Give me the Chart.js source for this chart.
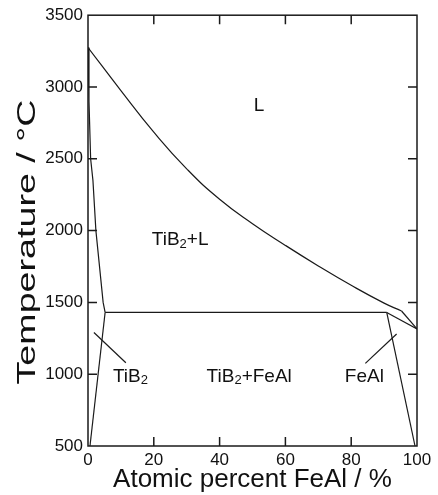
<!DOCTYPE html>
<html>
<head>
<meta charset="utf-8">
<script src="https://cdn.jsdelivr.net/npm/chart.js@4"></script>
<style>
  html, body { margin: 0; padding: 0; background: #fff; }
  #wrap { width: 438px; height: 495px; }
</style>
</head>
<body>
<div id="wrap"><canvas id="chartcontainer"></canvas></div>
<script>
// liquidus (TiB2 + L / L)
var liqX = [0, 10, 20, 30, 40, 50, 60, 70, 80, 90, 95.3];
var liqT = [3275, 2975, 2685, 2430, 2218, 2048, 1897, 1754, 1619, 1495, 1440];
// TiB2 side boundary
var tibX = [0, 0.3, 0.8, 1.5, 2.4, 4.6, 5.2];
var tibT = [3275, 2900, 2500, 2350, 2000, 1500, 1430];
// eutectic line
var eutX = [5.2, 90.8];
var eutT = [1430, 1430];
// FeAl side
var feLiqX = [95.3, 100];
var feLiqT = [1440, 1315];
var feSolX = [90.8, 100];
var feSolT = [1430, 1315];
var feSolvX = [90.8, 99.4];
var feSolvT = [1430, 500];
var tibSolvX = [5.2, 0.6];
var tibSolvT = [1430, 500];
// leader lines for labels
var tibLeadX = [1.8, 11.5];
var tibLeadT = [1290, 1080];
var feLeadX = [93.8, 84.3];
var feLeadT = [1280, 1075];
// region labels
var labelText = ["L", "TiB₂+L", "TiB₂", "TiB₂+FeAl", "FeAl"];
var labelX = [52, 28, 12.9, 49, 84];
var labelT = [2870, 1935, 985, 982, 985];
// ticks and titles
var xTicks = [0, 20, 40, 60, 80, 100];
var yTicks = [500, 1000, 1500, 2000, 2500, 3000, 3500];
var yTitle = 'Temperature / °C';

function pts(xs, ys) {
    var out = [];
    for (var i = 0; i < xs.length; i++) out.push({x: xs[i], y: ys[i]});
    return out;
}

function line(xs, ys, smooth) {
    return {
        data: pts(xs, ys),
        showLine: true,
        borderColor: '#1a1a1a',
        borderWidth: 1.2,
        pointRadius: 0,
        fill: false,
        tension: smooth ? 0.5 : 0
    };
}

// frame + inward ticks on all four sides
var framePlugin = {
    id: 'frame',
    afterDraw: function(chart) {
        var ctx = chart.ctx, a = chart.chartArea;
        var xs = chart.scales.x, ys = chart.scales.y;
        var len = 9;
        ctx.save();
        ctx.strokeStyle = '#1a1a1a';
        ctx.lineWidth = 1.5;
        ctx.strokeRect(a.left, a.top, a.right - a.left, a.bottom - a.top);
        ctx.beginPath();
        xTicks.forEach(function(v) {
            if (v <= 0 || v >= 100) return;
            var px = xs.getPixelForValue(v);
            ctx.moveTo(px, a.bottom); ctx.lineTo(px, a.bottom - len);
            ctx.moveTo(px, a.top); ctx.lineTo(px, a.top + len);
        });
        yTicks.forEach(function(v) {
            if (v <= 500 || v >= 3500) return;
            var py = ys.getPixelForValue(v);
            ctx.moveTo(a.left, py); ctx.lineTo(a.left + len, py);
            ctx.moveTo(a.right, py); ctx.lineTo(a.right - len, py);
        });
        ctx.stroke();

        // y title, stretched along its length like the original
        ctx.font = '25px "Liberation Sans", Arial, sans-serif';
        ctx.fillStyle = '#111';
        ctx.textAlign = 'center';
        ctx.textBaseline = 'middle';
        var w = ctx.measureText(yTitle).width;
        ctx.translate(28, 242);
        ctx.rotate(-Math.PI / 2);
        ctx.scale(285 / w, 1);
        ctx.fillText(yTitle, 0, 0);
        ctx.restore();
    }
};

// region labels with subscript 2
var labelPlugin = {
    id: 'labels',
    afterDatasetsDraw: function(chart) {
        var ctx = chart.ctx;
        var xs = chart.scales.x, ys = chart.scales.y;
        var big = '19px "Liberation Sans", Arial, sans-serif';
        var small = '13px "Liberation Sans", Arial, sans-serif';
        ctx.save();
        ctx.fillStyle = '#111';
        ctx.textBaseline = 'middle';
        ctx.textAlign = 'left';
        for (var i = 0; i < labelText.length; i++) {
            var parts = labelText[i].split('₂');
            var w = 0;
            ctx.font = big;
            parts.forEach(function(p) { w += ctx.measureText(p).width; });
            ctx.font = small;
            var sw = ctx.measureText('2').width;
            w += sw * (parts.length - 1);
            var cx = xs.getPixelForValue(labelX[i]) - w / 2;
            var cy = ys.getPixelForValue(labelT[i]);
            for (var j = 0; j < parts.length; j++) {
                ctx.font = big;
                ctx.fillText(parts[j], cx, cy);
                cx += ctx.measureText(parts[j]).width;
                if (j < parts.length - 1) {
                    ctx.font = small;
                    ctx.fillText('2', cx, cy + 4);
                    cx += sw;
                }
            }
        }
        ctx.restore();
    }
};

var ctx = document.getElementById('chartcontainer').getContext('2d');
var chart = new Chart(ctx, {
    type: 'scatter',
    data: {
        datasets: [
            line(liqX, liqT, true),
            line(tibX, tibT, false),
            line(eutX, eutT, false),
            line(feLiqX, feLiqT, false),
            line(feSolX, feSolT, false),
            line(feSolvX, feSolvT, false),
            line(tibSolvX, tibSolvT, false),
            line(tibLeadX, tibLeadT, false),
            line(feLeadX, feLeadT, false)
        ]
    },
    options: {
        responsive: true,
        maintainAspectRatio: false,
        animation: false,
        layout: { padding: { top: 15, right: 21, left: 0, bottom: 0 } },
        plugins: {
            legend: { display: false },
            tooltip: { enabled: false }
        },
        scales: {
            x: {
                type: 'linear',
                min: 0,
                max: 100,
                afterFit: function(s) { s.height = 49; },
                afterBuildTicks: function(s) { s.ticks = xTicks.map(function(v) { return {value: v}; }); },
                grid: { display: false, drawTicks: false },
                border: { display: false },
                ticks: {
                    color: '#111',
                    padding: 4,
                    maxRotation: 0,
                    callback: function(v) { return String(v); },
                    font: { family: '"Liberation Sans", Arial, sans-serif', size: 17 }
                },
                title: {
                    display: true,
                    text: 'Atomic percent FeAl / %',
                    color: '#111',
                    padding: { top: 0, bottom: 0 },
                    font: { family: '"Liberation Sans", Arial, sans-serif', size: 26 }
                }
            },
            y: {
                type: 'linear',
                min: 500,
                max: 3500,
                afterFit: function(s) { s.width = 88; },
                afterBuildTicks: function(s) { s.ticks = yTicks.map(function(v) { return {value: v}; }); },
                grid: { display: false, drawTicks: false },
                border: { display: false },
                ticks: {
                    color: '#111',
                    padding: 5,
                    callback: function(v) { return String(v); },
                    font: { family: '"Liberation Sans", Arial, sans-serif', size: 17 }
                },
                title: { display: false }
            }
        }
    },
    plugins: [framePlugin, labelPlugin]
});
</script>
</body>
</html>
